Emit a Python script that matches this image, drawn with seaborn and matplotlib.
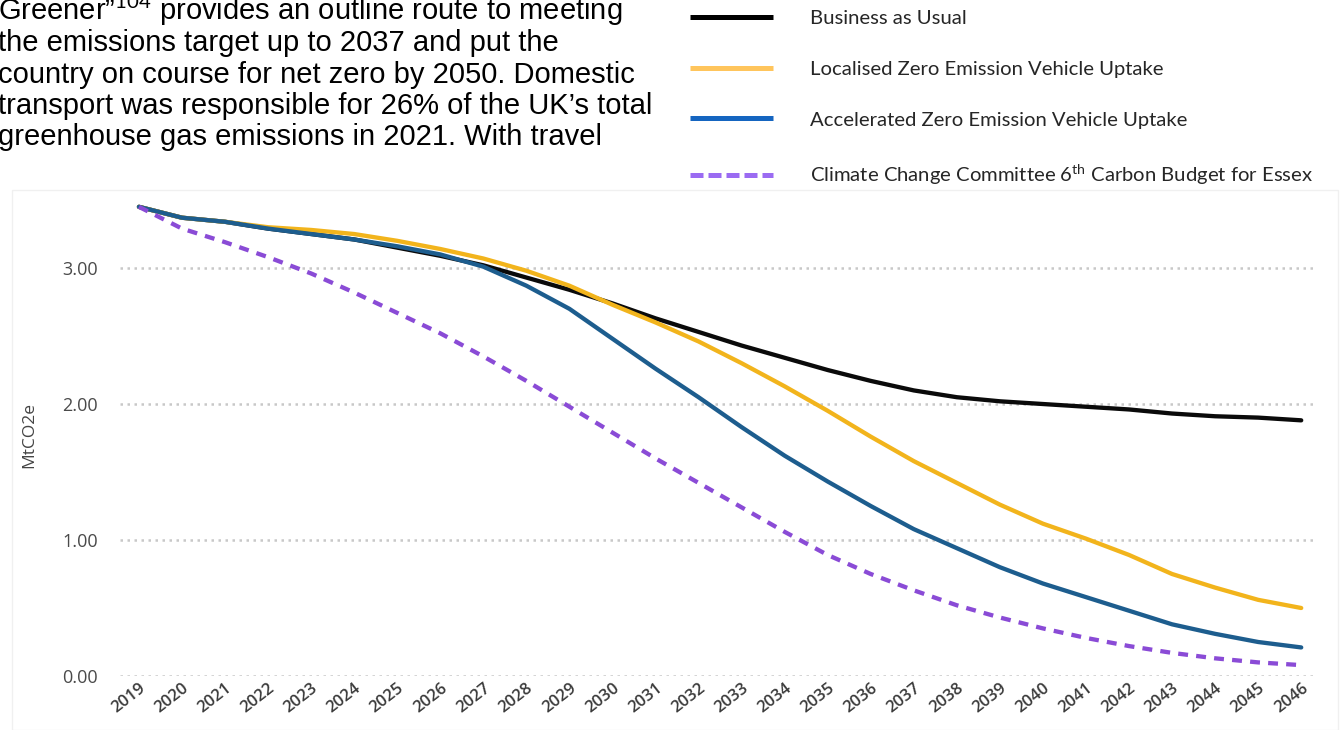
import pandas as pd
import matplotlib
matplotlib.use('Agg')
import matplotlib.pyplot as plt
from matplotlib.lines import Line2D
from matplotlib.patches import Rectangle
import seaborn as sns

# Data (MtCO2e)
years = list(range(2019, 2047))
bau = [3.45, 3.37, 3.34, 3.29, 3.25, 3.21, 3.15, 3.09, 3.02, 2.93, 2.84, 2.74, 2.63, 2.53,
       2.43, 2.34, 2.25, 2.17, 2.10, 2.05, 2.02, 2.00, 1.98, 1.96, 1.93, 1.91, 1.90, 1.88]
localised = [3.45, 3.37, 3.34, 3.30, 3.28, 3.25, 3.20, 3.14, 3.07, 2.98, 2.87, 2.73, 2.60, 2.46,
             2.30, 2.13, 1.95, 1.76, 1.58, 1.42, 1.26, 1.12, 1.01, 0.89, 0.75, 0.65, 0.56, 0.50]
accelerated = [3.45, 3.37, 3.34, 3.29, 3.25, 3.21, 3.16, 3.10, 3.01, 2.87, 2.70, 2.48, 2.26, 2.05,
               1.83, 1.62, 1.43, 1.25, 1.08, 0.94, 0.80, 0.68, 0.58, 0.48, 0.38, 0.31, 0.25, 0.21]
ccc = [3.45, 3.29, 3.19, 3.08, 2.96, 2.82, 2.67, 2.52, 2.35, 2.17, 1.98, 1.79, 1.60, 1.42,
       1.24, 1.06, 0.89, 0.75, 0.63, 0.52, 0.43, 0.35, 0.28, 0.22, 0.17, 0.13, 0.10, 0.08]

scenarios = ['Business as Usual',
             'Localised Zero Emission Vehicle Uptake',
             'Accelerated Zero Emission Vehicle Uptake',
             'Climate Change Committee 6$^{\\mathrm{th}}$ Carbon Budget for Essex']
y_ticks = [0, 1, 2, 3]

paragraph = ['Greener”$^{104}$ provides an outline route to meeting',
             'the emissions target up to 2037 and put the',
             'country on course for net zero by 2050. Domestic',
             'transport was responsible for 26% of the UK’s total',
             'greenhouse gas emissions in 2021. With travel']

# Long-form table for seaborn
df = pd.DataFrame({'Year': years * 4,
                   'MtCO2e': bau + localised + accelerated + ccc,
                   'Scenario': [s for s in scenarios for _ in years]})

sns.set_theme(style='white')
plt.rcParams['font.family'] = ['Open Sans', 'DejaVu Sans']
plt.rcParams['mathtext.fontset'] = 'custom'
plt.rcParams['mathtext.rm'] = 'Lato'

line_colors = ['#0a0a0a', '#F2B41C', '#1D5D8E', '#8A4BD6']
legend_colors = ['#000000', '#FFC55C', '#1565C0', '#9B6BF2']

fig = plt.figure(figsize=(13.43, 7.30), dpi=100)
W, H = 1343, 730

# faint frame round the chart
fig.patches.append(Rectangle((12 / W, 0), 1326 / W, 540 / H, transform=fig.transFigure,
                             fill=False, edgecolor='#f0f0f0', lw=1))

ax = fig.add_axes([120 / W, 54 / H, 1195 / W, 481 / H])
sns.lineplot(data=df, x='Year', y='MtCO2e', hue='Scenario', style='Scenario',
             palette=dict(zip(scenarios, line_colors)),
             dashes=dict(zip(scenarios, ['', '', '', (2.3, 1.9)])),
             linewidth=3.1, legend=False, ax=ax)

ax.set_xlim(2018.56, 2046.32)
ax.set_ylim(0, 3.537)
ax.set_xticks(years)
ax.set_xticklabels([str(y) for y in years], rotation=38, ha='right',
                   rotation_mode='anchor', fontsize=12, color='#3a3a3a', fontweight='semibold')
ax.set_yticks(y_ticks)
ax.set_yticklabels([f'{v:.2f}' for v in y_ticks], fontsize=13, color='#4a4a4a')
ax.tick_params(axis='x', length=0, pad=3)
ax.tick_params(axis='y', length=0, pad=16)
ax.yaxis.grid(True, color='#c8c8c8', linestyle=(0, (1, 1.8)), linewidth=1.8)
ax.xaxis.grid(False)
for s in ax.spines.values():
    s.set_visible(False)
ax.set_xlabel('')
ax.set_ylabel('MtCO2e', fontsize=12.5, color='#444444', labelpad=18)

# legend (top right)
handles = [Line2D([], [], color=c, lw=3.6, solid_capstyle='butt',
                  ls=(0, (2.6, 1.0)) if i == 3 else '-')
           for i, c in enumerate(legend_colors)]
fig.legend(handles, scenarios, loc='upper left', bbox_to_anchor=(690 / W, 1 - 10 / H),
           frameon=False, borderpad=0, borderaxespad=0,
           handlelength=4.1, handletextpad=1.8, labelspacing=1.65,
           prop={'family': 'Lato', 'size': 14.6})

# paragraph text cut from the document
for i, line in enumerate(paragraph):
    fig.text(-2 / W, 1 - (20 + 31.3 * i) / H, line, family='Liberation Sans',
             fontsize=21, color='black', va='baseline', ha='left')

fig.savefig('out.png', dpi=100)
